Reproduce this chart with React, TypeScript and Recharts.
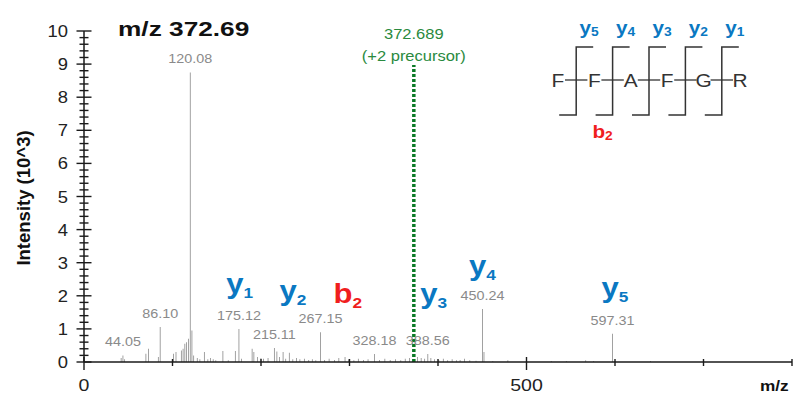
import React from "react";
import { ComposedChart, Bar, Scatter, XAxis, YAxis, ReferenceLine, LabelList } from "recharts";

const WIDTH = 793;
const HEIGHT = 394;
const PLOT_LEFT = 84;
const PLOT_TOP = 31;
const PLOT_BOTTOM = 362;
const FONT = "'Liberation Sans', Arial, sans-serif";

// annotated fragment peaks (m/z, intensity x10^3)
const LABELED_MZ = [44.05, 86.1, 120.08, 175.12, 215.11, 267.15, 328.18, 388.56, 450.24, 597.31];
const LABELED_INT = [0.2, 1.06, 8.75, 1.0, 0.42, 0.9, 0.24, 0.24, 1.6, 0.85];

// unlabelled background peaks
const NOISE_MZ = [
  42, 46, 70, 73, 84, 101, 104, 110, 112, 114, 116, 118, 122, 124, 128, 131, 136, 140, 143, 146,
  149, 157, 163, 171, 178, 190, 192, 196, 200, 203, 208, 218, 221, 225, 228, 232, 236, 240, 244,
  249, 254, 258, 262, 272, 277, 283, 288, 295, 299, 305, 310, 316, 321, 334, 340, 346, 352, 358,
  363, 368, 377, 381, 385, 392, 396, 401, 406, 411, 416, 421, 425, 430, 436, 443, 452, 462, 479,
  500, 528, 545, 567, 576, 600, 640, 700,
];
const NOISE_INT = [
  0.12, 0.08, 0.25, 0.4, 0.15, 0.25, 0.3, 0.35, 0.4, 0.55, 0.6, 0.7, 0.95, 0.2, 0.12, 0.08, 0.3, 0.08,
  0.12, 0.08, 0.05, 0.33, 0.05, 0.33, 0.1, 0.4, 0.3, 0.15, 0.12, 0.1, 0.12, 0.32, 0.15, 0.3, 0.1,
  0.28, 0.08, 0.12, 0.08, 0.1, 0.06, 0.08, 0.05, 0.06, 0.1, 0.06, 0.12, 0.15, 0.08, 0.05, 0.1, 0.06,
  0.08, 0.06, 0.1, 0.06, 0.08, 0.05, 0.1, 0.12, 0.15, 0.12, 0.1, 0.12, 0.08, 0.06, 0.1, 0.05, 0.08,
  0.05, 0.06, 0.1, 0.05, 0.04, 0.3, 0.03, 0.05, 0.03, 0.03, 0.03, 0.05, 0.03, 0.04, 0.03, 0.03,
];

const PRECURSOR_MZ = 372.689;
const PRECURSOR_TOP = 8.97;

// fragment ion annotations: name, subscript, anchor m/z and height
const ION_NAMES = ["y", "y", "b", "y", "y", "y"];
const ION_SUBS = ["1", "2", "2", "3", "4", "5"];
const ION_MZ = [176, 236, 298, 395, 450.24, 600];
const ION_LEVEL = [2.09, 1.88, 1.79, 1.79, 2.64, 1.97];

const RESIDUES = ["F", "F", "A", "F", "G", "R"];

const X_TICKS = [0, 100, 200, 300, 400, 500, 600, 700, 800];
const X_LABELS = [0, 500];
const Y_MAJOR = [0, 1, 2, 3, 4, 5, 6, 7, 8, 9, 10];
const Y_MINOR_STEP = 0.2;

const BLUE = "#0a78c2";
const RED = "#f01e1e";
const GREEN = "#0b7a26";

const peaks = [
  ...LABELED_MZ.map((mz, i) => ({ mz, intensity: LABELED_INT[i], label: mz.toFixed(2) })),
  ...NOISE_MZ.map((mz, i) => ({ mz, intensity: NOISE_INT[i], label: null as string | null })),
].sort((a, b) => a.mz - b.mz);

const ions = ION_NAMES.map((name, i) => ({
  mz: ION_MZ[i],
  level: ION_LEVEL[i],
  name,
  sub: ION_SUBS[i],
  color: name === "b" ? RED : BLUE,
}));

const precursor = [{ mz: PRECURSOR_MZ, level: PRECURSOR_TOP }];

// labelled ticks plus the small 0.2 steps between them
const Y_TICKS: number[] = [];
Y_MAJOR.forEach((m, i) => {
  Y_TICKS.push(m);
  if (i === Y_MAJOR.length - 1) return;
  for (let v = m + Y_MINOR_STEP; v < m + 1 - 1e-6; v += Y_MINOR_STEP) Y_TICKS.push(Math.round(v * 10) / 10);
});

// text stretched sideways a little, like the original export
function SText({ x, y, sx = 1.15, anchor = "middle", children, ...rest }: any) {
  return (
    <text
      transform={`translate(${x},${y}) scale(${sx},1)`}
      textAnchor={anchor}
      fontFamily={FONT}
      {...rest}
    >
      {children}
    </text>
  );
}

function YTick({ y, payload }: any) {
  const major = Y_MAJOR.includes(payload.value);
  const len = major ? 7.5 : 4.5;
  return (
    <g>
      <line x1={PLOT_LEFT - len} x2={PLOT_LEFT + len} y1={y} y2={y} stroke="#1a1a1a" strokeWidth={1.4} />
      {major && (
        <SText x={PLOT_LEFT - 16} y={y + 6} anchor="end" fontSize={16} fill="#222">
          {payload.value}
        </SText>
      )}
    </g>
  );
}

function XTick({ x, payload }: any) {
  const big = payload.value === 500 || payload.value === 0;
  return (
    <g>
      <line
        x1={x}
        x2={x}
        y1={PLOT_BOTTOM - (big ? 5 : 3)}
        y2={PLOT_BOTTOM + (big ? 8 : 4)}
        stroke="#1a1a1a"
        strokeWidth={1.4}
      />
      {X_LABELS.includes(payload.value) && (
        <SText x={x} y={PLOT_BOTTOM + 29} fontSize={17} fill="#222">
          {payload.value}
        </SText>
      )}
    </g>
  );
}

function PeakLabel({ x, y, width, value }: any) {
  if (value == null) return null;
  return (
    <SText x={x + width / 2} y={y - 9} fontSize={12.5} fill="#8a8a8a">
      {value}
    </SText>
  );
}

function IonMark({ cx, cy, payload }: any) {
  return (
    <SText x={cx} y={cy} sx={1.15} fontSize={27} fontWeight="bold" fill={payload.color}>
      {payload.name}
      <tspan fontSize={15} dy={5}>
        {payload.sub}
      </tspan>
    </SText>
  );
}

function PrecursorMark({ cx, cy }: any) {
  return (
    <g>
      <SText x={cx} y={cy - 26} sx={1.1} fontSize={15} fill="#2a8a3e">
        {PRECURSOR_MZ.toFixed(3)}
      </SText>
      <SText x={cx} y={cy - 4} sx={1.1} fontSize={15} fill="#2a8a3e">
        (+2 precursor)
      </SText>
    </g>
  );
}

function Peptide() {
  const x0 = 558;
  const step = 36.4;
  const letterX = RESIDUES.map((_, i) => x0 + i * step);
  const cuts = letterX.slice(0, -1).map((x, i) => (x + letterX[i + 1]) / 2);
  return (
    <g fontFamily={FONT}>
      {letterX.slice(0, -1).map((x, i) => (
        <line key={`l${i}`} x1={x + 7} x2={letterX[i + 1] - 7} y1={80} y2={80} stroke="#333" strokeWidth={1.3} />
      ))}
      {RESIDUES.map((r, i) => (
        <SText key={r + i} x={letterX[i]} y={87} sx={1.1} fontSize={19} fill="#333">
          {r}
        </SText>
      ))}
      {cuts.map((c, i) => (
        <g key={`c${i}`}>
          <polyline
            points={`${c + 17},47 ${c},47 ${c},115 ${c - 17},115`}
            fill="none"
            stroke="#333"
            strokeWidth={1.5}
          />
          <SText x={c + 13} y={34} fontSize={18} fontWeight="bold" fill={BLUE}>
            y
            <tspan fontSize={12} dy={2}>
              {RESIDUES.length - 1 - i}
            </tspan>
          </SText>
        </g>
      ))}
      <SText x={cuts[1] - 10} y={138} fontSize={18} fontWeight="bold" fill={RED}>
        b
        <tspan fontSize={12} dy={2}>
          2
        </tspan>
      </SText>
    </g>
  );
}

export default function App() {
  return (
    <div style={{ position: "absolute", left: 0, top: 0, width: WIDTH, height: HEIGHT, background: "#fff" }}>
      <ComposedChart
        width={WIDTH}
        height={HEIGHT}
        data={peaks}
        margin={{ top: PLOT_TOP, right: 1, bottom: 0, left: 0 }}
      >
        <XAxis
          type="number"
          dataKey="mz"
          domain={[0, 800]}
          ticks={X_TICKS}
          interval={0}
          height={HEIGHT - PLOT_BOTTOM}
          axisLine={{ stroke: "#1a1a1a", strokeWidth: 1.5 }}
          tickLine={false}
          tickSize={0}
          tick={<XTick />}
        />
        <YAxis
          type="number"
          domain={[0, 10]}
          ticks={Y_TICKS}
          interval={0}
          width={PLOT_LEFT}
          axisLine={{ stroke: "#1a1a1a", strokeWidth: 1.5 }}
          tickLine={false}
          tickSize={0}
          tick={<YTick />}
        />
        <Bar dataKey="intensity" fill="#7a7a7a" barSize={1.6} isAnimationActive={false}>
          <LabelList dataKey="label" content={<PeakLabel />} />
        </Bar>
        <ReferenceLine
          segment={[
            { x: PRECURSOR_MZ, y: 0 },
            { x: PRECURSOR_MZ, y: PRECURSOR_TOP },
          ]}
          stroke={GREEN}
          strokeWidth={3.5}
          strokeDasharray="3 2"
        />
        <Scatter data={precursor} dataKey="level" shape={<PrecursorMark />} isAnimationActive={false} />
        <Scatter data={ions} dataKey="level" shape={<IonMark />} isAnimationActive={false} />
      </ComposedChart>
      <svg width={WIDTH} height={HEIGHT} style={{ position: "absolute", left: 0, top: 0, pointerEvents: "none" }}>
        <SText x={118} y={36} anchor="start" sx={1.25} fontSize={21} fontWeight="bold" fill="#111">
          m/z 372.69
        </SText>
        <text
          transform="translate(30,198) rotate(-90)"
          textAnchor="middle"
          fontFamily={FONT}
          fontSize={18.5}
          fontWeight="bold"
          fill="#111"
        >
          Intensity (10^3)
        </text>
        <SText x={760} y={391} anchor="start" sx={1.15} fontSize={15} fontWeight="bold" fill="#111">
          m/z
        </SText>
        <Peptide />
      </svg>
    </div>
  );
}
